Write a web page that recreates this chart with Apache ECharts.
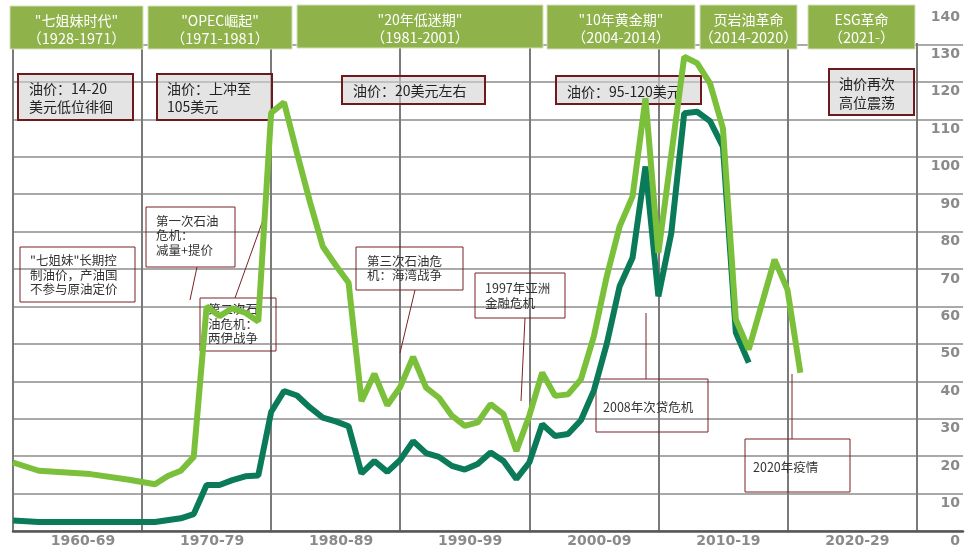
<!DOCTYPE html>
<html>
<head>
<meta charset="utf-8">
<script src="https://cdn.jsdelivr.net/npm/echarts@6/dist/echarts.min.js"></script>
<style>
  html, body { margin: 0; padding: 0; background: #ffffff; }
  #main { width: 972px; height: 548px; }
</style>
</head>
<body>
<div id="main"></div>
<script>
// Decade bands on the time axis and their labels
const decadeStarts = [1960, 1970, 1980, 1990, 2000, 2010, 2020];
const decadeLabels = ['1960-69', '1970-79', '1980-89', '1990-99', '2000-09', '2010-19', '2020-29'];

// Inflation-adjusted oil price (USD/bbl)
const realYears = [1960, 1962, 1966, 1969, 1971, 1972, 1973, 1974, 1975, 1976, 1977, 1978, 1979, 1980,
  1981, 1982, 1983, 1984, 1985, 1986, 1987, 1988, 1989, 1990, 1991, 1992, 1993, 1994, 1995, 1996,
  1997, 1998, 1999, 2000, 2001, 2002, 2003, 2004, 2005, 2006, 2007, 2008, 2009, 2010, 2012, 2013,
  2014, 2015, 2016, 2017, 2019, 2020, 2021];
const realPrice = [18.3, 16.1, 15.2, 13.7, 12.5, 14.7, 16.1, 19.8, 60, 57.4, 59.5, 58.3, 56, 111.7,
  114.5, 101, 88, 76, 71, 66.3, 34.7, 42, 33.6, 38.5, 46.5, 38.3, 35.6, 30.8, 28.1, 29,
  33.9, 31.2, 21.4, 30.8, 42.3, 36.1, 36.5, 40.5, 52, 68, 81.4, 89.4, 115.6, 74.3, 126.7, 125,
  119.6, 107.6, 56.5, 48.5, 72.5, 64.5, 42.3];

// Nominal oil price (USD/bbl)
const nominalYears = [1960, 1962, 1971, 1973, 1974, 1975, 1976, 1977, 1978, 1979, 1980, 1981, 1982,
  1983, 1984, 1985, 1986, 1987, 1988, 1989, 1990, 1991, 1992, 1993, 1994, 1995, 1996, 1997, 1998,
  1999, 2000, 2001, 2002, 2003, 2004, 2005, 2006, 2007, 2008, 2009, 2010, 2011, 2012, 2013, 2014,
  2015, 2016, 2017];
const nominalPrice = [2.8, 2.4, 2.4, 3.4, 4.5, 12.3, 12.3, 13.6, 14.6, 14.8, 31.8, 37.4, 36.2,
  33, 30.3, 29.3, 28, 15.4, 18.7, 15.8, 19, 24, 20.8, 19.8, 17.4, 16.4, 17.9, 21, 18.7,
  13.9, 18.3, 28.5, 25.4, 25.9, 29.6, 37.5, 50, 65.4, 73, 97.4, 62.7, 79.6, 111.6, 112, 109.5,
  102.7, 53, 45];

// Era headers
const eraTitles = ['"七姐妹时代"', '"OPEC崛起"', '"20年低迷期"', '"10年黄金期"', '页岩油革命', 'ESG革命'];
const eraYears = ['（1928-1971）', '（1971-1981）', '（1981-2001）', '（2004-2014）', '（2014-2020）', '（2021-）'];

// Price-range notes (grey) and event notes (outlined)
const priceNotes = ['油价：14-20\n美元低位徘徊', '油价：上冲至\n105美元', '油价：20美元左右', '油价：95-120美元', '油价再次\n高位震荡'];
const eventNotes = ['"七姐妹"长期控\n制油价，产油国\n不参与原油定价', '第一次石油\n危机：\n减量+提价', '第二次石\n油危机：\n两伊战争',
  '第三次石油危\n机：海湾战争', '1997年亚洲\n金融危机', '2008年次贷危机', '2020年疫情'];

const CJK = '"Noto Sans CJK SC", "Noto Sans", sans-serif';
const AXISFONT = '"DejaVu Sans", sans-serif';

// Layout of header boxes [x, y, w, h]
const eraBoxes = [[10, 6, 133, 43], [148, 6, 144, 43], [297, 5, 246, 43], [547, 5, 148, 44], [700, 5, 97, 44], [808, 5, 107, 44]];
// Layout of grey notes [x, y, w, h, textX, textTop, lineHeight]
const priceBoxes = [[18, 74, 115, 46, 29, 80, 18], [157, 74, 115, 46, 167, 80, 18], [342, 76, 143, 28, 353, 82, 18],
  [556, 76, 145, 28, 567, 83, 18], [829, 69, 85, 46, 839, 74.5, 19]];
// Layout of event notes [x, y, w, h, textX, textTop, lineHeight]
const eventBoxes = [[20, 247, 115, 55, 30, 253, 14.5], [146, 207, 89, 60, 156, 213.5, 14.5], [200, 298, 76, 53, 208, 302, 14.5],
  [356, 247, 107, 43, 367, 253.5, 14.5], [475, 273, 90, 45, 485, 280.5, 15], [596, 379, 112, 53, 603, 399.5, 15],
  [745, 439, 105, 53, 753, 459.5, 15]];
// Leader lines from notes to the curve [x1, y1, x2, y2]
const leaders = [[197, 267, 190, 300], [235, 298, 263, 220], [415, 290, 400, 353], [525, 318, 521, 401],
  [646, 379, 646, 313], [792, 439, 792, 374]];

const graphics = [];

// Hide the top of the 2030 gridline behind the header row
graphics.push({ type: 'rect', shape: { x: 913, y: 0, width: 7, height: 43 }, style: { fill: '#ffffff' }, z: 90, silent: true });

eraBoxes.forEach((b, i) => {
  const cx = b[0] + b[2] / 2;
  graphics.push({ type: 'rect', shape: { x: b[0], y: b[1], width: b[2], height: b[3] },
    style: { fill: '#8fb24b', stroke: '#d3e0b8', lineWidth: 1 }, z: 100 });
  graphics.push({ type: 'text', x: cx, y: b[1] + 15, z: 101,
    style: { text: eraTitles[i], fill: '#ffffff', fontSize: 14, fontFamily: CJK, align: 'center', verticalAlign: 'middle' } });
  graphics.push({ type: 'text', x: cx, y: b[1] + 32, z: 101,
    style: { text: eraYears[i], fill: '#ffffff', fontSize: 14.5, fontFamily: CJK, align: 'center', verticalAlign: 'middle' } });
});

priceBoxes.forEach((b, i) => {
  graphics.push({ type: 'rect', shape: { x: b[0], y: b[1], width: b[2], height: b[3] },
    style: { fill: 'rgba(210,210,210,0.6)', stroke: '#6e1a1c', lineWidth: 2 }, z: 1 });
  graphics.push({ type: 'text', x: b[4], y: b[5], z: 1,
    style: { text: priceNotes[i], fill: '#222222', fontSize: 14, fontFamily: CJK, lineHeight: b[6], align: 'left', verticalAlign: 'top' } });
});

eventBoxes.forEach((b, i) => {
  graphics.push({ type: 'rect', shape: { x: b[0], y: b[1], width: b[2], height: b[3] },
    style: { fill: 'none', stroke: '#7a2226', lineWidth: 1 }, z: 1 });
  graphics.push({ type: 'text', x: b[4], y: b[5], z: 1,
    style: { text: eventNotes[i], fill: '#333333', fontSize: 12.5, fontFamily: CJK, lineHeight: b[6], align: 'left', verticalAlign: 'top' } });
});

leaders.forEach(l => {
  graphics.push({ type: 'line', shape: { x1: l[0], y1: l[1], x2: l[2], y2: l[3] },
    style: { stroke: '#7a2226', lineWidth: 1 }, z: 1 });
});

const chart = echarts.init(document.getElementById('main'), null, { renderer: 'canvas' });

chart.setOption({
  animation: false,
  backgroundColor: '#ffffff',
  grid: { left: 13, right: 9, top: 7, bottom: 16, containLabel: false },
  xAxis: {
    type: 'value',
    min: 1960,
    max: 2033.6,
    interval: 10,
    axisLine: { show: true, onZero: true, lineStyle: { color: '#555555', width: 2.5 } },
    axisTick: { show: false },
    splitLine: { show: true, showMinLine: true, showMaxLine: false, lineStyle: { color: '#7a7a7a', width: 2 } },
    axisLabel: {
      show: true,
      showMinLabel: true,
      showMaxLabel: false,
      margin: 3,
      align: 'center',
      padding: [0, 0, 0, 140],
      color: '#8a8a8a',
      fontFamily: AXISFONT,
      fontWeight: 'bold',
      fontSize: 14,
      formatter: v => {
        const i = decadeStarts.indexOf(Math.round(v));
        return i >= 0 ? decadeLabels[i] : '';
      }
    }
  },
  yAxis: {
    type: 'value',
    position: 'right',
    min: 0,
    max: 140,
    interval: 10,
    axisLine: { show: false },
    axisTick: { show: false },
    splitLine: { show: true, showMaxLine: false, lineStyle: { color: '#8c8c8c', width: 1.5 } },
    axisLabel: {
      inside: true,
      margin: 3,
      verticalAlign: 'top',
      padding: [3, 0, 0, 0],
      color: '#8a8a8a',
      fontFamily: AXISFONT,
      fontWeight: 'bold',
      fontSize: 14
    }
  },
  series: [
    {
      name: '名义油价',
      type: 'line',
      data: nominalYears.map((y, i) => [y, nominalPrice[i]]),
      showSymbol: false,
      symbol: 'none',
      lineStyle: { color: '#0a7a58', width: 6 },
      itemStyle: { color: '#0a7a58' },
      z: 3
    },
    {
      name: '实际油价',
      type: 'line',
      data: realYears.map((y, i) => [y, realPrice[i]]),
      showSymbol: false,
      symbol: 'none',
      lineStyle: { color: '#7bc03a', width: 6 },
      itemStyle: { color: '#7bc03a' },
      z: 4
    }
  ],
  graphic: { elements: graphics }
});
</script>
</body>
</html>
